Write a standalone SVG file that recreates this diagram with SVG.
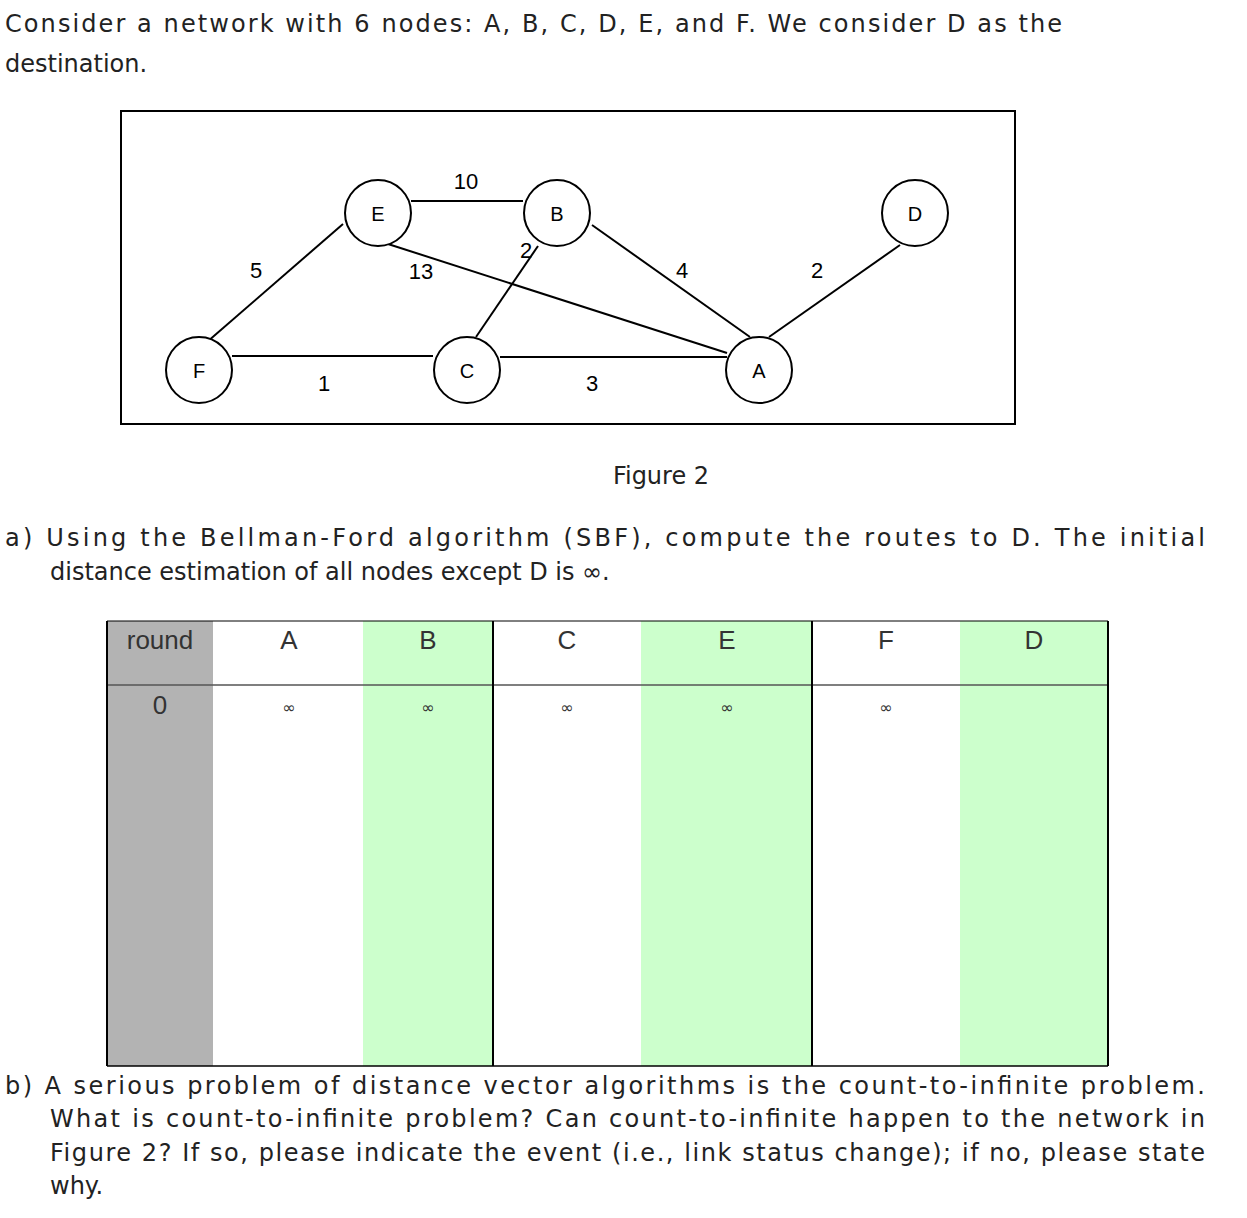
<svg xmlns="http://www.w3.org/2000/svg" width="1247" height="1218" viewBox="0 0 1247 1218">
<style>
.t{font-family:"DejaVu Sans",Verdana,sans-serif;font-size:24px;fill:#222}
.n{fill:#fff;stroke:#000;stroke-width:2}
.nl{font-family:"Liberation Sans",Arial,sans-serif;font-size:20px;text-anchor:middle;fill:#000}
.el{font-family:"Liberation Sans",Arial,sans-serif;font-size:22px;text-anchor:middle;fill:#000}
.e{stroke:#000;stroke-width:2;fill:none}
.th{font-family:"Liberation Sans",Arial,sans-serif;font-size:26px;text-anchor:middle;fill:#333}
.inf{font-family:"DejaVu Sans",sans-serif;font-size:16px;text-anchor:middle;fill:#333}
</style>
<rect width="1247" height="1218" fill="#fff"/>
<text class="t" x="5" y="32" textLength="1057">Consider a network with 6 nodes: A, B, C, D, E, and F. We consider D as the</text>
<text class="t" x="5" y="72">destination.</text>
<rect x="121" y="111" width="894" height="313" fill="none" stroke="#000" stroke-width="2"/>
<g id="connectors">
<line class="e" x1="411" y1="201" x2="523" y2="201"/>
<line class="e" x1="343" y1="224" x2="207" y2="342"/>
<line class="e" x1="388" y1="244" x2="727" y2="353"/>
<line class="e" x1="592" y1="225" x2="750" y2="337"/>
<line class="e" x1="476" y1="337" x2="538" y2="246"/>
<line class="e" x1="900" y1="245" x2="769" y2="337"/>
<line class="e" x1="232" y1="356" x2="433" y2="356"/>
<line class="e" x1="500" y1="357" x2="727" y2="357"/>
<text class="el" x="466" y="189">10</text>
<text class="el" x="256" y="278">5</text>
<text class="el" x="421" y="279">13</text>
<text class="el" x="526" y="258">2</text>
<text class="el" x="682" y="278">4</text>
<text class="el" x="817" y="278">2</text>
<text class="el" x="324" y="391">1</text>
<text class="el" x="592" y="391">3</text>
</g>
<g id="E"><ellipse class="n" cx="378" cy="213" rx="33" ry="33"/><text class="nl" x="378" y="221">E</text></g>
<g id="B"><ellipse class="n" cx="557" cy="213" rx="33" ry="33"/><text class="nl" x="557" y="221">B</text></g>
<g id="D"><ellipse class="n" cx="915" cy="213" rx="33" ry="33"/><text class="nl" x="915" y="221">D</text></g>
<g id="F"><ellipse class="n" cx="199" cy="370" rx="33" ry="33"/><text class="nl" x="199" y="378">F</text></g>
<g id="C"><ellipse class="n" cx="467" cy="370" rx="33" ry="33"/><text class="nl" x="467" y="378">C</text></g>
<g id="A"><ellipse class="n" cx="759" cy="370" rx="33" ry="33"/><text class="nl" x="759" y="378">A</text></g>
<text class="t" x="661" y="484" text-anchor="middle">Figure 2</text>
<text class="t" x="5" y="546" textLength="1200">a) Using the Bellman-Ford algorithm (SBF), compute the routes to D. The initial</text>
<text class="t" x="50" y="580">distance estimation of all nodes except D is ∞.</text>
<g id="table">
<rect x="107" y="621" width="106" height="445" fill="#b3b3b3"/>
<rect x="363" y="621" width="130" height="445" fill="#ccffcc"/>
<rect x="641" y="621" width="171" height="445" fill="#ccffcc"/>
<rect x="960" y="621" width="148" height="445" fill="#ccffcc"/>
<line x1="107" y1="621" x2="1108" y2="621" stroke="#000" stroke-width="1"/>
<line x1="107" y1="685" x2="1108" y2="685" stroke="#555" stroke-width="1.5"/>
<line x1="107" y1="1066" x2="1108" y2="1066" stroke="#000" stroke-width="1.5"/>
<g stroke="#000" stroke-width="2"><line x1="107" y1="621" x2="107" y2="1066"/><line x1="493" y1="621" x2="493" y2="1066"/><line x1="812" y1="621" x2="812" y2="1066"/><line x1="1108" y1="621" x2="1108" y2="1066"/></g>
<text class="th" x="160" y="649">round</text>
<text class="th" x="289" y="649">A</text><text class="th" x="428" y="649">B</text><text class="th" x="567" y="649">C</text><text class="th" x="727" y="649">E</text><text class="th" x="886" y="649">F</text><text class="th" x="1034" y="649">D</text>
<text class="th" x="160" y="714">0</text>
<text class="inf" x="289" y="713">∞</text><text class="inf" x="428" y="713">∞</text><text class="inf" x="567" y="713">∞</text><text class="inf" x="727" y="713">∞</text><text class="inf" x="886" y="713">∞</text>
</g>
<text class="t" x="5" y="1094" textLength="1200">b) A serious problem of distance vector algorithms is the count-to-infinite problem.</text>
<text class="t" x="50" y="1127" textLength="1155">What is count-to-infinite problem? Can count-to-infinite happen to the network in</text>
<text class="t" x="50" y="1161" textLength="1155">Figure 2? If so, please indicate the event (i.e., link status change); if no, please state</text>
<text class="t" x="50" y="1194">why.</text>
</svg>
